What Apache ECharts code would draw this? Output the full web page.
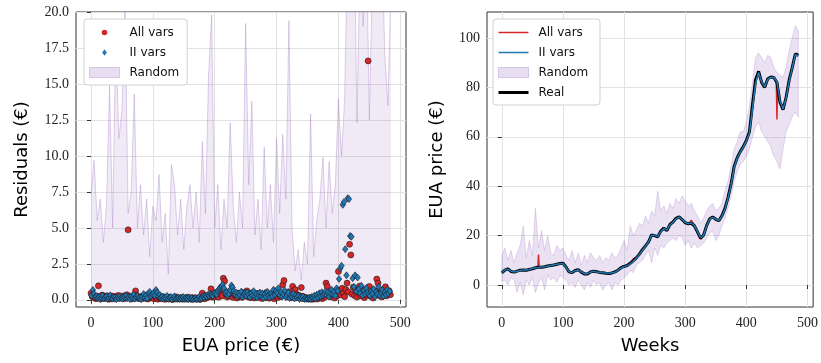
<!DOCTYPE html>
<html><head><meta charset="utf-8">
<script src="https://cdn.jsdelivr.net/npm/echarts@6/dist/echarts.min.js"></script>
<style>html,body{margin:0;padding:0;background:#fff}#c{width:821px;height:363px}</style>
</head><body><div id="c"></div>
<script>
// ---------- tick labels ----------
const weekTicks = [0, 100, 200, 300, 400, 500];
const residualTicks = [0, 2.5, 5, 7.5, 10, 12.5, 15, 17.5, 20];
const priceTicks = [0, 20, 40, 60, 80, 100];

// ---------- x positions (weeks) ----------
const lineWeeks = []; for (let w = 0; w <= 485; w += 5) lineWeeks.push(w);
const evenWeeks = []; for (let w = 0; w <= 484; w += 2) evenWeeks.push(w);
const oddWeeks = [];  for (let w = 1; w <= 483; w += 2) oddWeeks.push(w);

// ---------- left panel: residuals ----------
const allVarsResid = [
0.45,0.22,0.31,0.12,0.08,0.25,0.97,0.18,0.05,0.33,0.14,0.21,0.09,0.28,0.16,0.04,0.19,0.26,0.11,0.07,0.23,0.15,0.3,0.1,0.18,
0.12,0.27,0.08,0.19,0.35,4.86,0.21,0.14,0.06,0.24,0.17,0.62,0.3,0.09,0.13,0.2,0.07,0.26,0.15,0.11,0.22,0.05,0.18,0.29,0.12,
0.16,0.08,0.25,0.11,0.04,0.19,0.13,0.07,0.22,0.1,0.03,0.15,0.09,0.18,0.06,0.12,0.02,0.14,0.08,0.2,0.05,0.11,0.07,0.16,0.04,
0.09,0.13,0.05,0.18,0.07,0.1,0.03,0.15,0.06,0.12,0.04,0.08,0.14,0.02,0.09,0.46,0.11,0.07,0.28,0.15,0.21,0.33,0.76,0.18,0.25,
0.31,0.22,0.45,0.18,0.6,0.35,0.27,1.5,1.3,0.42,0.19,0.55,0.3,0.24,0.48,0.16,0.38,0.29,0.12,0.44,0.21,0.33,0.17,0.5,0.26,
0.35,0.62,0.2,0.41,0.15,0.28,0.5,0.12,0.33,0.24,0.45,0.18,0.3,0.09,0.38,0.22,0.14,0.52,0.27,0.11,0.36,0.19,0.29,0.07,0.25,
0.31,0.16,0.42,0.22,0.35,1.04,1.34,0.28,0.48,0.19,0.56,0.33,0.14,0.93,0.27,0.71,0.4,0.2,0.31,0.13,0.85,0.24,0.09,0.18,0.06,
0.12,0.04,0.09,0.15,0.03,0.11,0.07,0.18,0.05,0.22,0.14,0.3,0.08,0.25,0.17,1.16,0.93,0.41,0.26,0.55,0.19,0.35,0.12,0.46,0.28,
1.97,0.62,0.35,0.8,0.48,0.22,0.71,1.16,0.55,3.86,3.12,0.4,0.88,0.3,0.64,0.19,0.52,0.95,0.27,0.43,0.7,0.15,0.58,0.33,16.6,
0.93,0.25,0.48,0.12,0.36,0.6,1.44,1.16,0.3,0.52,0.2,0.41,0.74,0.9,0.28,0.55,0.62,0.35
];
const iiVarsResid = [
0.3,0.69,0.42,0.18,0.25,0.11,0.2,0.06,0.15,0.28,0.09,0.17,0.23,0.05,0.14,0.31,0.12,0.08,0.21,0.16,0.04,0.19,0.1,0.26,0.13,
0.07,0.22,0.15,0.3,0.1,0.18,0.05,0.25,0.13,0.36,0.08,0.2,0.28,0.12,0.17,0.04,0.23,0.4,0.14,0.32,0.09,0.45,0.55,0.26,0.38,
0.48,0.3,0.69,0.52,0.25,0.36,0.15,0.22,0.08,0.18,0.11,0.27,0.06,0.14,0.2,0.03,0.12,0.24,0.07,0.1,0.16,0.05,0.13,0.09,0.19,
0.06,0.14,0.1,0.04,0.17,0.08,0.12,0.03,0.09,0.15,0.05,0.11,0.2,0.07,0.13,0.25,0.18,0.3,0.22,0.35,0.28,0.4,0.33,0.26,0.45,
0.5,0.38,0.62,0.75,0.85,0.95,1.05,0.8,0.45,0.55,0.3,0.42,0.68,1.0,0.85,0.6,0.36,0.5,0.25,0.44,0.31,0.57,0.2,0.39,0.48,
0.28,0.52,0.35,0.18,0.46,0.3,0.6,0.22,0.4,0.15,0.33,0.5,0.26,0.45,0.12,0.38,0.21,0.55,0.3,0.16,0.42,0.24,0.7,0.35,0.62,
0.48,0.8,0.3,0.55,0.22,0.4,0.65,0.18,0.35,0.5,0.12,0.28,0.2,0.42,0.09,0.3,0.15,0.25,0.06,0.18,0.1,0.22,0.05,0.14,0.08,
0.1,0.16,0.06,0.2,0.12,0.28,0.08,0.35,0.18,0.45,0.25,0.52,0.3,0.4,0.6,0.35,0.5,0.22,0.45,0.7,0.38,0.55,0.28,0.8,0.62,
1.45,2.2,2.36,6.6,6.8,3.52,1.7,7.06,7.0,4.44,4.38,1.5,0.9,1.7,0.6,1.55,0.75,0.45,0.98,0.3,0.65,0.4,0.82,0.5,0.36,
0.28,0.6,0.42,0.75,0.2,0.55,0.38,0.9,0.3,0.48,0.68,0.25,0.52,0.35,0.72,0.45,0.6
];
const randomResid = [
7.3,9.7,5.5,7.0,4.0,6.5,14.9,5.0,18.6,11.2,
13.1,20.5,6.0,7.5,14.3,5.0,8.0,4.5,7.0,3.0,
6.5,5.5,8.7,4.0,6.0,1.8,9.4,8.0,4.5,7.0,
3.5,6.5,8.0,5.0,7.5,4.0,11.0,6.0,15.5,19.8,
5.0,8.0,3.5,7.0,5.0,12.3,6.5,4.0,7.5,5.0,
19.2,8.0,13.8,4.5,7.0,3.5,10.6,5.0,8.0,4.0,
11.2,6.0,11.5,7.0,19.4,5.0,2.0,3.5,1.4,4.0,
2.5,12.9,3.0,5.5,7.0,9.9,5.0,9.6,6.0,8.0,
14.0,10.0,13.9,25,22,28,12.3,24,19,26,
12.5,23,30,21,25,17,13.5,22
];

// ---------- right panel: EUA price ----------
const realPrice = [
4.9,6.0,6.5,5.5,5.2,5.6,6.0,6.1,6.0,6.3,
6.6,7.0,7.2,7.2,7.4,7.7,7.9,8.1,8.4,8.7,
8.8,7.3,5.3,5.0,5.9,6.2,5.2,4.5,4.5,5.3,
5.6,5.4,5.1,5.0,4.8,4.7,4.9,5.3,6.0,7.0,
7.5,7.9,8.8,9.8,11.0,12.5,14.3,15.8,17.5,20.3,
20.0,19.5,21.8,23.0,22.0,24.5,25.5,27.0,27.6,26.5,
25.2,24.8,25.0,24.0,21.5,19.0,20.2,24.0,26.8,27.5,
26.6,26.0,28.0,31.0,35.5,41.0,48.0,51.5,54.0,56.0,
58.5,62.0,73.0,83.0,86.5,82.0,80.0,83.5,84.2,84.0,
82.0,74.0,71.0,76.0,83.0,88.0,93.5,93.0
];
const iiVarsPrice = [
5.0,6.1,6.4,5.6,5.3,5.6,5.9,6.1,6.1,6.3,
6.7,7.0,7.1,7.3,7.4,7.6,7.9,8.2,8.4,8.6,
8.7,7.2,5.4,5.1,5.8,6.1,5.3,4.6,4.6,5.2,
5.6,5.3,5.2,5.0,4.9,4.8,5.0,5.2,5.9,6.9,
7.4,7.8,8.6,9.6,10.8,12.4,14.1,15.7,17.4,20.1,
20.1,19.6,21.6,22.9,22.2,24.4,25.4,26.8,27.5,26.6,
25.3,24.9,25.1,24.1,21.7,19.2,20.1,23.8,26.7,27.4,
26.7,26.1,27.8,30.8,35.2,40.6,47.5,51.3,53.8,55.8,
58.2,61.5,71.5,81.5,86.0,82.2,80.2,83.3,84.0,84.1,
82.2,74.5,71.2,75.8,82.6,87.8,93.2,92.9
];
const allVarsPrice = [
5.0,6.0,6.8,5.5,5.2,5.6,6.0,6.1,6.0,6.3,
6.6,7.0,12.3,7.2,7.4,7.7,7.9,8.1,8.4,8.7,
8.8,7.3,5.3,5.0,5.9,6.2,5.2,4.5,4.5,5.3,
5.6,5.6,5.1,5.0,4.8,4.7,4.9,5.3,6.0,7.0,
7.8,7.9,8.8,10.6,11.0,12.5,14.3,15.8,17.5,20.3,
20.0,19.5,21.8,23.0,22.0,24.5,25.5,27.0,27.6,26.5,
25.2,24.8,26.2,24.0,21.5,18.5,20.2,24.0,26.8,27.5,
26.6,26.0,28.0,31.0,35.5,41.0,48.0,51.5,54.0,56.0,
58.5,62.0,73.0,83.0,86.5,82.0,80.0,83.5,84.2,84.0,
67.0,74.0,71.0,76.0,83.0,88.0,93.5,93.0
];
// extra weekly points of the "All vars" line around its one-week spikes
const allVarsExtra = [[59, 7.2], [61, 7.2], [449, 82.3], [451, 80.5]];
const randomLower = [
1.5,2,0,3,2,-3,1,-4,2,0,
3,-3,1,3,-2,4,2,3,1,4,
3,2,0,1,-1,2,0,-2,1,-1,
2,0,1,-2,0,1,-2,1,0,2,
3,4,6,5,8,9,10,12,14,9,
15,12,16,15,17,18,19,18,20,19,
16,18,15,17,15,16,17,19,21,22,
18,20,24,27,31,36,42,46,49,50,
52,55,60,64,66,62,60,58,56,52,
50,47,55,62,65,68,70,68
];
const randomUpper = [
12,15,10,14,9,13,16,24,11,18,
12,31,15,22,14,20,13,12,16,14,
15,12,10,14,9,13,8,12,9,13,
11,10,12,9,11,10,13,11,12,15,
18,14,24,20,22,25,24,28,25,30,
28,38,30,32,29,33,31,35,33,36,
34,32,33,30,28,25,27,30,32,33,
30,31,33,38,42,48,55,58,62,62,
66,72,82,92,94,92,90,93,92,88,
86,85,84,88,95,100,105,103
];

// ---------- styling ----------
const RED = '#d62728', BLUE = '#1f77b4', PURPLE = '#9467bd';
const SERIF = 'Liberation Serif', SANS = 'DejaVu Sans';
const pair = (xs, ys) => xs.map((x, i) => [x, ys[i]]);

function axisX(gridIndex, name) {
  return {
    type: 'value', gridIndex, min: -24.25, max: 509.25,
    name, nameLocation: 'middle', nameGap: 30,
    nameTextStyle: { fontFamily: SANS, fontSize: 18, color: '#000' },
    axisLine: { show: false },
    axisTick: { show: true, length: 4, customValues: weekTicks, lineStyle: { color: '#333' } },
    axisLabel: { customValues: weekTicks, margin: 9, fontFamily: SERIF, fontSize: 14, color: '#222' },
    splitLine: { show: true, lineStyle: { color: '#e2e2e2', width: 1 } }
  };
}
function axisY(gridIndex, name, gap, min, max, ticks, fmt) {
  return {
    type: 'value', gridIndex, min, max,
    name, nameLocation: 'middle', nameGap: gap,
    nameTextStyle: { fontFamily: SANS, fontSize: 18, color: '#000' },
    axisLine: { show: false },
    axisTick: { show: true, length: 4, customValues: ticks, lineStyle: { color: '#333' } },
    axisLabel: { customValues: ticks, margin: 7, fontFamily: SERIF, fontSize: 14, color: '#222', formatter: fmt },
    splitLine: { show: true, lineStyle: { color: '#e2e2e2', width: 1 } }
  };
}

// legend icons: a zero-area diagonal keeps the full 30x10 icon frame
const FRAME = 'M0,0L30,10L0,0Z';
const dotIcon = 'path://' + FRAME + 'M12.2,5a2.8,2.8 0 1,0 5.6,0a2.8,2.8 0 1,0 -5.6,0Z';
const diaIcon = 'path://' + FRAME + 'M15,1.7L17.3,5L15,8.3L12.7,5Z';
const thinLine = 'path://M0,0L30,0L30,1.5L0,1.5Z';
const thickLine = 'path://M0,0L30,0L30,3L0,3Z';
const randLegendStyle = { color: 'rgba(148,103,189,0.22)', borderColor: 'rgba(148,103,189,0.3)', borderWidth: 1 };
const legendText = { fontFamily: SANS, fontSize: 12, color: '#111', lineHeight: 15, padding: [0, 0, 0, 5] };
const legendCommon = {
  orient: 'vertical', itemWidth: 30, itemHeight: 10, itemGap: 5, selectedMode: false, textStyle: legendText,
  backgroundColor: '#fff', borderColor: '#d0d0d0', borderWidth: 1, borderRadius: 3, padding: [6, 8, 5, 5]
};

const chart = echarts.init(document.getElementById('c'), null, { renderer: 'canvas' });
chart.setOption({
  animation: false,
  backgroundColor: '#fff',
  grid: [
    { left: 76, right: 415, top: 12, bottom: 56, show: true, borderColor: '#333', borderWidth: 1, backgroundColor: 'transparent' },
    { left: 487, right: 4, top: 12, bottom: 56, show: true, borderColor: '#333', borderWidth: 1, backgroundColor: 'transparent' }
  ],
  xAxis: [axisX(0, 'EUA price (€)'), axisX(1, 'Weeks')],
  yAxis: [
    axisY(0, 'Residuals (€)', 45, -0.5, 20, residualTicks, v => v.toFixed(1)),
    axisY(1, 'EUA price (€)', 41, -8.9, 110.5, priceTicks, v => String(v))
  ],
  legend: [
    Object.assign({}, legendCommon, {
      left: 84, top: 19,
      data: [
        { name: 'All vars', icon: dotIcon, itemStyle: { color: RED, borderWidth: 0 } },
        { name: 'II vars', icon: diaIcon, itemStyle: { color: BLUE, borderWidth: 0 } },
        { name: 'Random', icon: 'rect', itemStyle: randLegendStyle }
      ]
    }),
    Object.assign({}, legendCommon, {
      left: 493, top: 19,
      data: [
        { name: 'All vars ', icon: thinLine, itemStyle: { color: RED } },
        { name: 'II vars ', icon: thinLine, itemStyle: { color: BLUE } },
        { name: 'Random ', icon: 'rect', itemStyle: randLegendStyle },
        { name: 'Real', icon: thickLine, itemStyle: { color: '#000' } }
      ]
    })
  ],
  series: [
    {
      name: 'Random', type: 'line', xAxisIndex: 0, yAxisIndex: 0, clip: true,
      data: pair(lineWeeks, randomResid), symbol: 'none', z: 1,
      lineStyle: { color: 'rgba(148,103,189,0.3)', width: 1 },
      itemStyle: { color: PURPLE },
      areaStyle: { color: 'rgba(148,103,189,0.2)', origin: 0 }
    },
    {
      name: 'All vars', type: 'scatter', xAxisIndex: 0, yAxisIndex: 0, z: 3,
      data: pair(evenWeeks, allVarsResid), symbol: 'circle', symbolSize: 6,
      itemStyle: { color: RED, borderColor: '#1a1a1a', borderWidth: 0.6, opacity: 1 }
    },
    {
      name: 'II vars', type: 'scatter', xAxisIndex: 0, yAxisIndex: 0, z: 4,
      data: pair(oddWeeks, iiVarsResid), symbol: 'diamond', symbolSize: [5.5, 7],
      itemStyle: { color: BLUE, borderColor: '#1a1a1a', borderWidth: 0.6, opacity: 1 }
    },
    {
      name: 'All vars ', type: 'line', xAxisIndex: 1, yAxisIndex: 1, symbol: 'none', z: 2,
      data: pair(lineWeeks, allVarsPrice).concat(allVarsExtra).sort((a, b) => a[0] - b[0]),
      lineStyle: { color: RED, width: 1.5 }, itemStyle: { color: RED }
    },
    {
      name: 'Random ', type: 'custom', xAxisIndex: 1, yAxisIndex: 1, z: 1,
      data: [[0, 0]],
      itemStyle: { color: PURPLE },
      renderItem: function (params, api) {
        const pts = [];
        for (let i = 0; i < lineWeeks.length; i++) pts.push(api.coord([lineWeeks[i], randomUpper[i]]));
        for (let i = lineWeeks.length - 1; i >= 0; i--) pts.push(api.coord([lineWeeks[i], randomLower[i]]));
        return {
          type: 'polygon', shape: { points: pts },
          style: { fill: 'rgba(148,103,189,0.2)', stroke: 'rgba(148,103,189,0.3)', lineWidth: 0.8 }
        };
      }
    },
    {
      name: 'Real', type: 'line', xAxisIndex: 1, yAxisIndex: 1, symbol: 'none', z: 3,
      data: pair(lineWeeks, realPrice),
      lineStyle: { color: '#000', width: 3 }, itemStyle: { color: '#000' }
    },
    {
      name: 'II vars ', type: 'line', xAxisIndex: 1, yAxisIndex: 1, symbol: 'none', z: 4,
      data: pair(lineWeeks, iiVarsPrice),
      lineStyle: { color: BLUE, width: 1.5 }, itemStyle: { color: BLUE }
    }
  ]
});
</script>
</body></html>
